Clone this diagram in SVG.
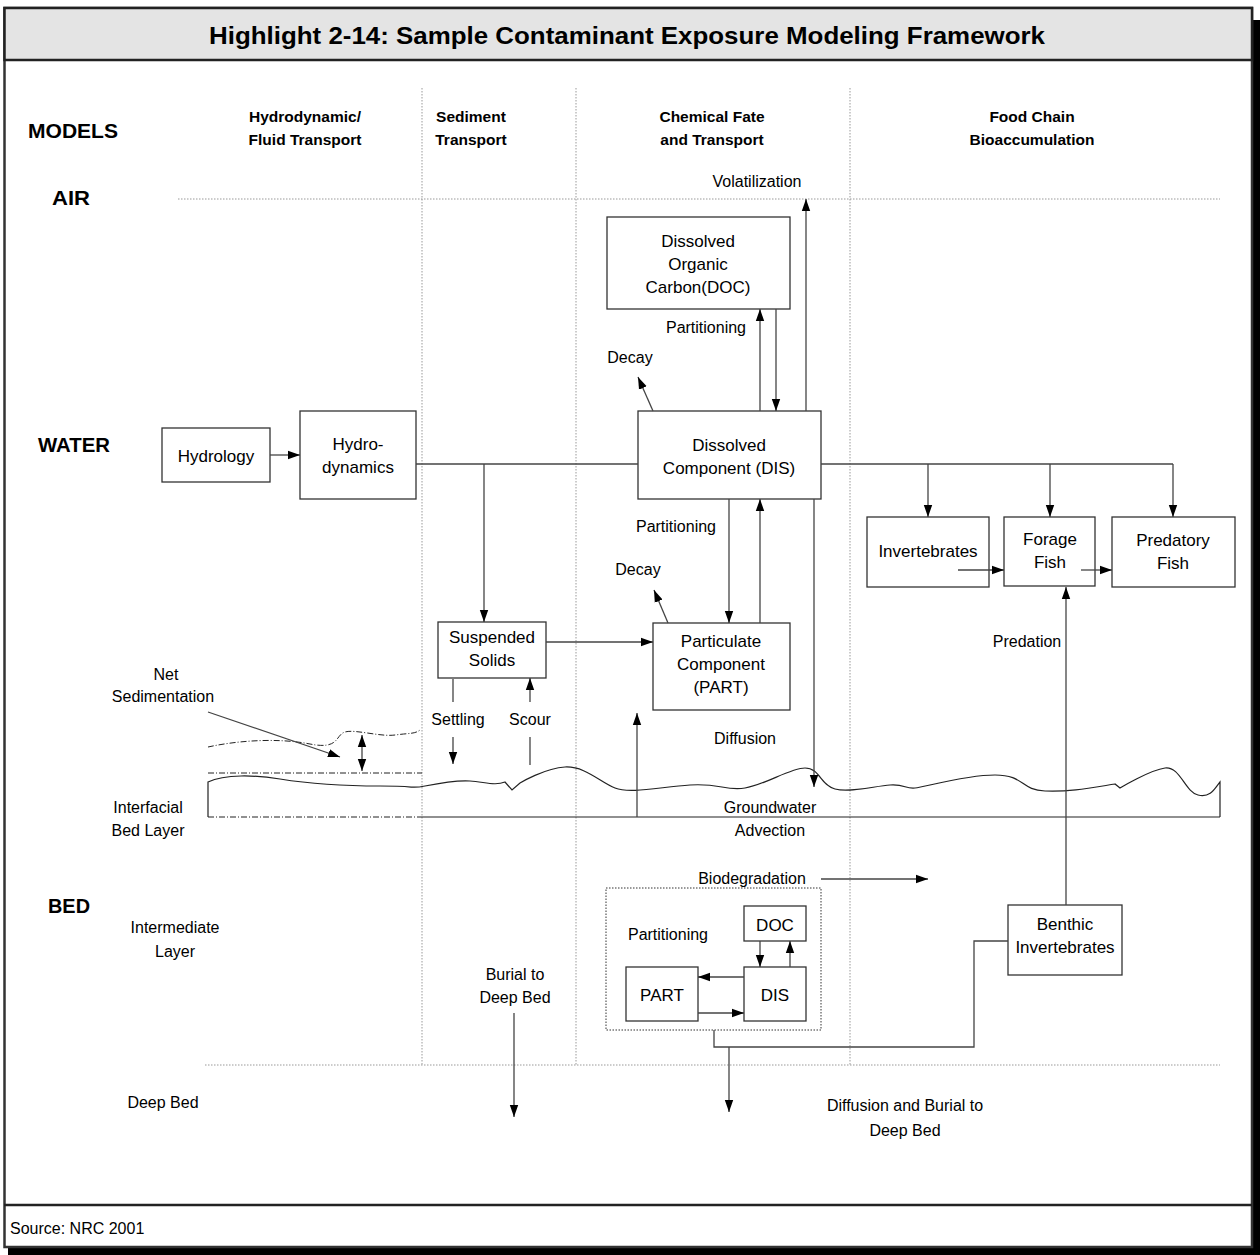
<svg xmlns="http://www.w3.org/2000/svg" width="1260" height="1255" viewBox="0 0 1260 1255">
<style>
text{font-family:"Liberation Sans",Arial,sans-serif;fill:#000}
.t{font-size:16px}
.b{font-size:17px}
.hd{font-size:15.5px;font-weight:bold}
.lb{font-size:20px;font-weight:bold}
.m{text-anchor:middle}
.box{fill:#fff;stroke:#333;stroke-width:1.3}
.dot{fill:none;stroke:#999;stroke-width:1;stroke-dasharray:1.5,1.5}
.ln{fill:none;stroke:#444;stroke-width:1.3}
.a{marker-end:url(#ah)}
.dd{fill:none;stroke:#222;stroke-width:1;stroke-dasharray:6,2,1,2}
</style>
<defs>
<marker id="ah" viewBox="0 0 12 10" refX="12" refY="5" markerWidth="12" markerHeight="10" markerUnits="userSpaceOnUse" orient="auto-start-reverse"><path d="M0,0.8 L12,5 L0,9.2 z" fill="#000"/></marker>
</defs>
<rect width="1260" height="1255" fill="#fff"/>
<rect x="1252" y="20" width="8" height="1235" fill="#000"/>
<rect x="8" y="1247" width="1252" height="8" fill="#000"/>
<rect x="4.5" y="8" width="1247.5" height="1239" fill="#fff" stroke="#333" stroke-width="2.5"/>
<rect x="4.5" y="8" width="1247.5" height="52" fill="#e4e4e4" stroke="#222" stroke-width="2.5"/>
<line x1="4" y1="1205" x2="1252" y2="1205" stroke="#222" stroke-width="2.5"/>
<text x="627" y="44" class="m" style="font-size:24px;font-weight:bold" textLength="836" lengthAdjust="spacingAndGlyphs">Highlight 2-14: Sample Contaminant Exposure Modeling Framework</text>
<text x="10" y="1234" style="font-size:16px">Source: NRC 2001</text>

<g id="grid">
<line x1="422" y1="88" x2="422" y2="1065" class="dot"/>
<line x1="576" y1="88" x2="576" y2="1065" class="dot"/>
<line x1="850" y1="88" x2="850" y2="1065" class="dot"/>
<line x1="178" y1="199" x2="1220" y2="199" class="dot"/>
<line x1="205" y1="1065" x2="1220" y2="1065" class="dot"/>
</g>

<g id="labels">
<text x="28" y="138" class="lb" textLength="90" lengthAdjust="spacingAndGlyphs">MODELS</text>
<text x="52" y="205" class="lb" textLength="38" lengthAdjust="spacingAndGlyphs">AIR</text>
<text x="38" y="452" class="lb" textLength="72" lengthAdjust="spacingAndGlyphs">WATER</text>
<text x="48" y="913" class="lb" textLength="42" lengthAdjust="spacingAndGlyphs">BED</text>
<text x="305" y="122" class="hd m">Hydrodynamic/</text>
<text x="305" y="145" class="hd m">Fluid Transport</text>
<text x="471" y="122" class="hd m">Sediment</text>
<text x="471" y="145" class="hd m">Transport</text>
<text x="712" y="122" class="hd m">Chemical Fate</text>
<text x="712" y="145" class="hd m">and Transport</text>
<text x="1032" y="122" class="hd m">Food Chain</text>
<text x="1032" y="145" class="hd m">Bioaccumulation</text>
<text x="757" y="187" class="t m">Volatilization</text>
<text x="706" y="333" class="t m">Partitioning</text>
<text x="630" y="363" class="t m">Decay</text>
<text x="676" y="532" class="t m">Partitioning</text>
<text x="638" y="575" class="t m">Decay</text>
<text x="166" y="680" class="t m">Net</text>
<text x="163" y="702" class="t m">Sedimentation</text>
<text x="458" y="725" class="t m">Settling</text>
<text x="530" y="725" class="t m">Scour</text>
<text x="745" y="744" class="t m">Diffusion</text>
<text x="1027" y="647" class="t m">Predation</text>
<text x="148" y="813" class="t m">Interfacial</text>
<text x="148" y="836" class="t m">Bed Layer</text>
<text x="770" y="813" class="t m">Groundwater</text>
<text x="770" y="836" class="t m">Advection</text>
<text x="752" y="884" class="t m">Biodegradation</text>
<text x="668" y="940" class="t m">Partitioning</text>
<text x="175" y="933" class="t m">Intermediate</text>
<text x="175" y="957" class="t m">Layer</text>
<text x="515" y="980" class="t m">Burial to</text>
<text x="515" y="1003" class="t m">Deep Bed</text>
<text x="163" y="1108" class="t m">Deep Bed</text>
<text x="905" y="1111" class="t m">Diffusion and Burial to</text>
<text x="905" y="1136" class="t m">Deep Bed</text>
</g>

<g id="layers">
<path d="M208,747 C240,740 280,738 310,744 S335,735 345,732 S380,737 395,735 S415,734 420,730" class="dd"/>
<line x1="208" y1="773" x2="422" y2="773" class="dd"/>
<line x1="208" y1="817" x2="422" y2="817" class="dd"/>
<line x1="422" y1="817" x2="1220" y2="817" stroke="#222" stroke-width="1.2"/>
<path d="M208,817 V782 C225,774 255,775 280,779 S340,786 380,786 S410,789 425,786 S455,780 470,781 S495,786 505,782 L512,790 L520,783 S545,768 565,767 S600,782 615,788 S660,787 690,785 S725,791 745,788 S790,768 805,768 S820,785 835,789 S875,786 890,785 S905,789 915,788 S965,775 995,775 S1020,790 1045,791 S1090,788 1115,784 L1120,788 S1150,770 1165,768 S1185,792 1198,795 S1215,788 1220,782 V817" fill="none" stroke="#222" stroke-width="1.2"/>
</g>

<g id="hydrology"><rect x="162" y="428" width="108" height="54" class="box"/><text x="216" y="462" class="b m">Hydrology</text></g>
<g id="hydrodynamics"><rect x="300" y="411" width="116" height="88" class="box"/><text x="358" y="450" class="b m">Hydro-</text><text x="358" y="473" class="b m">dynamics</text></g>
<g id="doc"><rect x="607" y="217" width="183" height="92" class="box"/><text x="698" y="247" class="b m">Dissolved</text><text x="698" y="270" class="b m">Organic</text><text x="698" y="293" class="b m">Carbon(DOC)</text></g>
<g id="dis"><rect x="638" y="411" width="183" height="88" class="box"/><text x="729" y="451" class="b m">Dissolved</text><text x="729" y="474" class="b m">Component (DIS)</text></g>
<g id="suspended"><rect x="438" y="622" width="108" height="56" class="box"/><text x="492" y="643" class="b m">Suspended</text><text x="492" y="666" class="b m">Solids</text></g>
<g id="part"><rect x="653" y="623" width="137" height="87" class="box"/><text x="721" y="647" class="b m">Particulate</text><text x="721" y="670" class="b m">Component</text><text x="721" y="693" class="b m">(PART)</text></g>
<g id="invertebrates"><rect x="867" y="517" width="122" height="70" class="box"/><text x="928" y="557" class="b m">Invertebrates</text></g>
<g id="forage"><rect x="1004" y="517" width="91" height="69" class="box"/><text x="1050" y="545" class="b m">Forage</text><text x="1050" y="568" class="b m">Fish</text></g>
<g id="predatory"><rect x="1112" y="517" width="123" height="70" class="box"/><text x="1173" y="546" class="b m">Predatory</text><text x="1173" y="569" class="b m">Fish</text></g>
<g id="bedbox"><rect x="606" y="888" width="215" height="142" fill="none" stroke="#333" stroke-width="1" stroke-dasharray="1.5,1.5"/></g>
<g id="bed-doc"><rect x="744" y="906" width="62" height="35" class="box"/><text x="775" y="931" class="b m">DOC</text></g>
<g id="bed-part"><rect x="626" y="967" width="72" height="54" class="box"/><text x="662" y="1001" class="b m">PART</text></g>
<g id="bed-dis"><rect x="744" y="967" width="62" height="54" class="box"/><text x="775" y="1001" class="b m">DIS</text></g>
<g id="benthic"><rect x="1008" y="905" width="114" height="70" class="box"/><text x="1065" y="930" class="b m">Benthic</text><text x="1065" y="953" class="b m">Invertebrates</text></g>

<g id="connectors">
<path d="M270,455 H300" class="ln a"/>
<path d="M416,464 H638" class="ln"/>
<path d="M821,464 H1173" class="ln"/>
<path d="M484,464 V622" class="ln a"/>
<path d="M928,464 V517" class="ln a"/>
<path d="M1050,464 V517" class="ln a"/>
<path d="M1173,464 V517" class="ln a"/>
<path d="M760,411 V309" class="ln a"/>
<path d="M776,309 V411" class="ln a"/>
<path d="M806,411 V199" class="ln a"/>
<path d="M653,411 L638,377" class="ln a"/>
<path d="M729,499 V623" class="ln a"/>
<path d="M760,623 V499" class="ln a"/>
<path d="M668,623 L654,590" class="ln a"/>
<path d="M814,499 V787" class="ln a"/>
<path d="M637,817 V713" class="ln a"/>
<path d="M546,642 H653" class="ln a"/>
<path d="M453,679 V702" class="ln"/>
<path d="M453,737 V764" class="ln a"/>
<path d="M530,765 V737" class="ln"/>
<path d="M530,702 V678" class="ln a"/>
<path d="M208,712 L340,757" class="ln a"/>
<path d="M362,735 V771" class="ln a" style="marker-start:url(#ah)"/>
<path d="M958,570 H1004" class="ln a"/>
<path d="M1081,570 H1112" class="ln a"/>
<path d="M1066,905 V587" class="ln a"/>
<path d="M821,879 H928" class="ln a"/>
<path d="M760,941 V967" class="ln a"/>
<path d="M790,967 V941" class="ln a"/>
<path d="M744,977 H698" class="ln a"/>
<path d="M698,1013 H744" class="ln a"/>
<path d="M714,1030 V1047 H974 V941 H1008" class="ln"/>
<path d="M729,1047 V1112" class="ln a"/>
<path d="M514,1013 V1117" class="ln a"/>
</g>
</svg>
